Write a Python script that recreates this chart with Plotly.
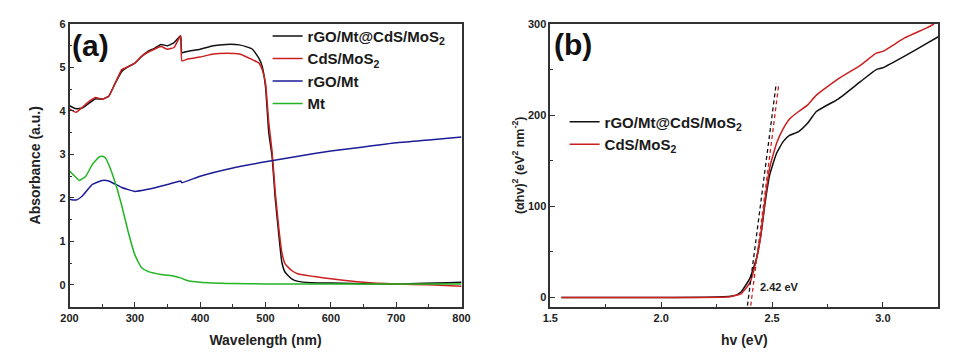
import plotly.graph_objects as go

# ---------- Panel (a) data ----------
wl_black = [200, 210, 220, 230, 240, 250, 260, 270, 280, 290, 300, 310, 320, 330, 340, 350, 360, 370, 372,
            380, 400, 420, 440, 460, 470, 480, 490, 495, 500, 505, 510, 515, 520, 525, 530, 540, 550, 570,
            600, 700, 800]
abs_black = [4.12, 4.05, 4.07, 4.18, 4.28, 4.27, 4.34, 4.64, 4.91, 5.02, 5.10, 5.25, 5.37, 5.44, 5.53, 5.50,
             5.57, 5.73, 5.34, 5.37, 5.42, 5.50, 5.53, 5.52, 5.48, 5.42, 5.21, 5.02, 4.56, 3.50, 2.96, 1.97,
             1.21, 0.52, 0.29, 0.14, 0.08, 0.05, 0.04, 0.02, 0.06]

wl_red = [200, 210, 220, 230, 240, 250, 260, 270, 280, 290, 300, 310, 320, 330, 340, 350, 360, 370, 372,
          380, 400, 420, 440, 460, 480, 490, 495, 500, 505, 510, 515, 520, 525, 530, 540, 550, 575, 600,
          650, 700, 750, 800]
abs_red = [4.05, 3.97, 4.09, 4.22, 4.31, 4.27, 4.34, 4.64, 4.95, 5.02, 5.10, 5.25, 5.35, 5.42, 5.48, 5.42,
           5.46, 5.73, 5.15, 5.19, 5.24, 5.31, 5.33, 5.31, 5.18, 5.10, 4.95, 4.64, 3.73, 3.08, 2.12, 1.36,
           0.75, 0.48, 0.33, 0.25, 0.19, 0.14, 0.06, 0.02, 0.00, -0.03]

wl_blue = [200, 210, 220, 235, 250, 260, 280, 300, 320, 350, 370, 372, 400, 450, 500, 550, 600, 650, 700,
           750, 800]
abs_blue = [1.97, 1.95, 2.05, 2.31, 2.40, 2.39, 2.24, 2.15, 2.20, 2.31, 2.39, 2.35, 2.50, 2.69, 2.83, 2.96,
            3.08, 3.17, 3.27, 3.33, 3.40]

wl_green = [200, 210, 215, 225, 235, 245, 250, 255, 260, 270, 280, 290, 300, 310, 320, 340, 360, 370, 380,
            400, 450, 500, 600, 800]
abs_green = [2.62, 2.47, 2.40, 2.50, 2.77, 2.94, 2.96, 2.92, 2.77, 2.35, 1.82, 1.21, 0.69, 0.40, 0.31, 0.24,
             0.20, 0.16, 0.10, 0.06, 0.03, 0.02, 0.02, 0.02]

# ---------- Panel (b) data ----------
hv_black = [1.55, 2.0, 2.25, 2.33, 2.36, 2.40, 2.43, 2.45, 2.47, 2.49, 2.52, 2.55, 2.58, 2.62, 2.66, 2.70,
            2.80, 2.90, 2.97, 3.00, 3.10, 3.20, 3.25]
tauc_black = [0, 0, 0.5, 2, 6, 21, 43, 69, 106, 135, 158, 171, 178, 182, 191, 204, 218, 237, 250, 252, 265,
              279, 286]

hv_red = [1.55, 2.0, 2.30, 2.33, 2.36, 2.40, 2.43, 2.45, 2.47, 2.49, 2.52, 2.55, 2.58, 2.62, 2.66, 2.70,
          2.80, 2.90, 2.97, 3.00, 3.10, 3.20, 3.23]
tauc_red = [0, 0, 0.5, 2, 4, 16, 42, 69, 110, 143, 169, 185, 196, 204, 211, 222, 240, 255, 268, 270, 285,
            296, 300]

fit_black_x = [2.389, 2.519]
fit_black_y = [-9, 235]
fit_red_x = [2.404, 2.531]
fit_red_y = [-9, 235]

gap_label = "2.42 eV"
gap_label_pos = (2.435, 12)

C_BLACK = "#111111"
C_RED = "#cc2020"
C_BLUE = "#1c1c96"
C_GREEN = "#22b522"

fig = go.Figure()

def add(x, y, name, color, xa, ya, legend, show=True, dash=None):
    fig.add_trace(go.Scatter(x=x, y=y, mode="lines", name=name,
                             line=dict(color=color, width=1.5, dash=dash, shape="spline", smoothing=0.4),
                             xaxis=xa, yaxis=ya, legend=legend, showlegend=show))

add(wl_black, abs_black, "rGO/Mt@CdS/MoS<sub>2</sub>", C_BLACK, "x", "y", "legend")
add(wl_red, abs_red, "CdS/MoS<sub>2</sub>", C_RED, "x", "y", "legend")
add(wl_blue, abs_blue, "rGO/Mt", C_BLUE, "x", "y", "legend")
add(wl_green, abs_green, "Mt", C_GREEN, "x", "y", "legend")

add(hv_black, tauc_black, "rGO/Mt@CdS/MoS<sub>2</sub>", C_BLACK, "x2", "y2", "legend2")
add(hv_red, tauc_red, "CdS/MoS<sub>2</sub>", C_RED, "x2", "y2", "legend2")
fig.add_trace(go.Scatter(x=fit_black_x, y=fit_black_y, mode="lines", line=dict(color=C_BLACK, width=1.3, dash="4px,3px"),
                         xaxis="x2", yaxis="y2", showlegend=False))
fig.add_trace(go.Scatter(x=fit_red_x, y=fit_red_y, mode="lines", line=dict(color=C_RED, width=1.3, dash="4px,3px"),
                         xaxis="x2", yaxis="y2", showlegend=False))

FONT = "Liberation Sans, Arial, sans-serif"
tickfont = dict(family=FONT, size=11, color="#222222", weight="bold")
titlefont = dict(family=FONT, size=14, color="#222222", weight="bold")
titlefont_b = dict(family=FONT, size=12.5, color="#222222", weight="bold")
legfont = dict(family=FONT, size=15, color="#1a1a1a", weight="bold")

def axis(domain, rng, dtick, minor_dtick, title, anchor, standoff, tfont=titlefont):
    return dict(domain=domain, range=rng, dtick=dtick, tick0=0, showline=True, linecolor="#333333", linewidth=1.5,
                mirror=True, ticks="inside", ticklen=5, tickwidth=1.2, tickcolor="#333333",
                minor=dict(dtick=minor_dtick, ticks="inside", ticklen=3, tickwidth=1, tickcolor="#333333"),
                showgrid=False, zeroline=False, tickfont=tickfont, automargin=False,
                title=dict(text=title, font=tfont, standoff=standoff), anchor=anchor)

# page body has an 8px margin; figure size is reduced accordingly
W, H = 958, 348
ydom = [0.142, 0.954]
fig.update_layout(
    width=W, height=H, margin=dict(l=0, r=0, t=0, b=0, autoexpand=False),
    paper_bgcolor="white", plot_bgcolor="white",
    xaxis=axis([0.0642, 0.4734], [200, 800], 100, 50, "Wavelength (nm)", "y", 13),
    yaxis=axis(ydom, [-0.5, 6], 1, 0.5, "Absorbance (a.u.)", "x", 16),
    xaxis2=axis([0.5661, 0.9711], [1.5, 3.25], 0.5, 0.25, "hv (eV)", "y2", 13),
    yaxis2=axis(ydom, [-10, 300], 100, 50, "(αhv)<sup>2</sup> (eV<sup>2</sup> nm<sup>-2</sup>)", "x2", 1, titlefont_b),
    legend=dict(x=0.271, y=0.966, xanchor="left", yanchor="top", bgcolor="rgba(0,0,0,0)",
                font=legfont, tracegroupgap=0),
    legend2=dict(x=0.581, y=0.72, xanchor="left", yanchor="top", bgcolor="rgba(0,0,0,0)",
                 font=legfont, tracegroupgap=0),
    showlegend=True,
)
fig.update_xaxes(tickformat=".1f", selector=dict(anchor="y2"))

fig.add_annotation(text="(a)", x=0.0647, y=0.891, xref="paper", yref="paper", xanchor="left", yanchor="middle",
                   showarrow=False, font=dict(family=FONT, size=30, color="#111111", weight="bold"))
fig.add_annotation(text="(b)", x=0.5678, y=0.894, xref="paper", yref="paper", xanchor="left", yanchor="middle",
                   showarrow=False, font=dict(family=FONT, size=30, color="#111111", weight="bold"))
fig.add_annotation(text=gap_label, x=gap_label_pos[0], y=gap_label_pos[1], xref="x2", yref="y2",
                   xanchor="left", yanchor="middle", showarrow=False,
                   font=dict(family=FONT, size=11, color="#222222", weight="bold"))

fig.write_html("out.html")
